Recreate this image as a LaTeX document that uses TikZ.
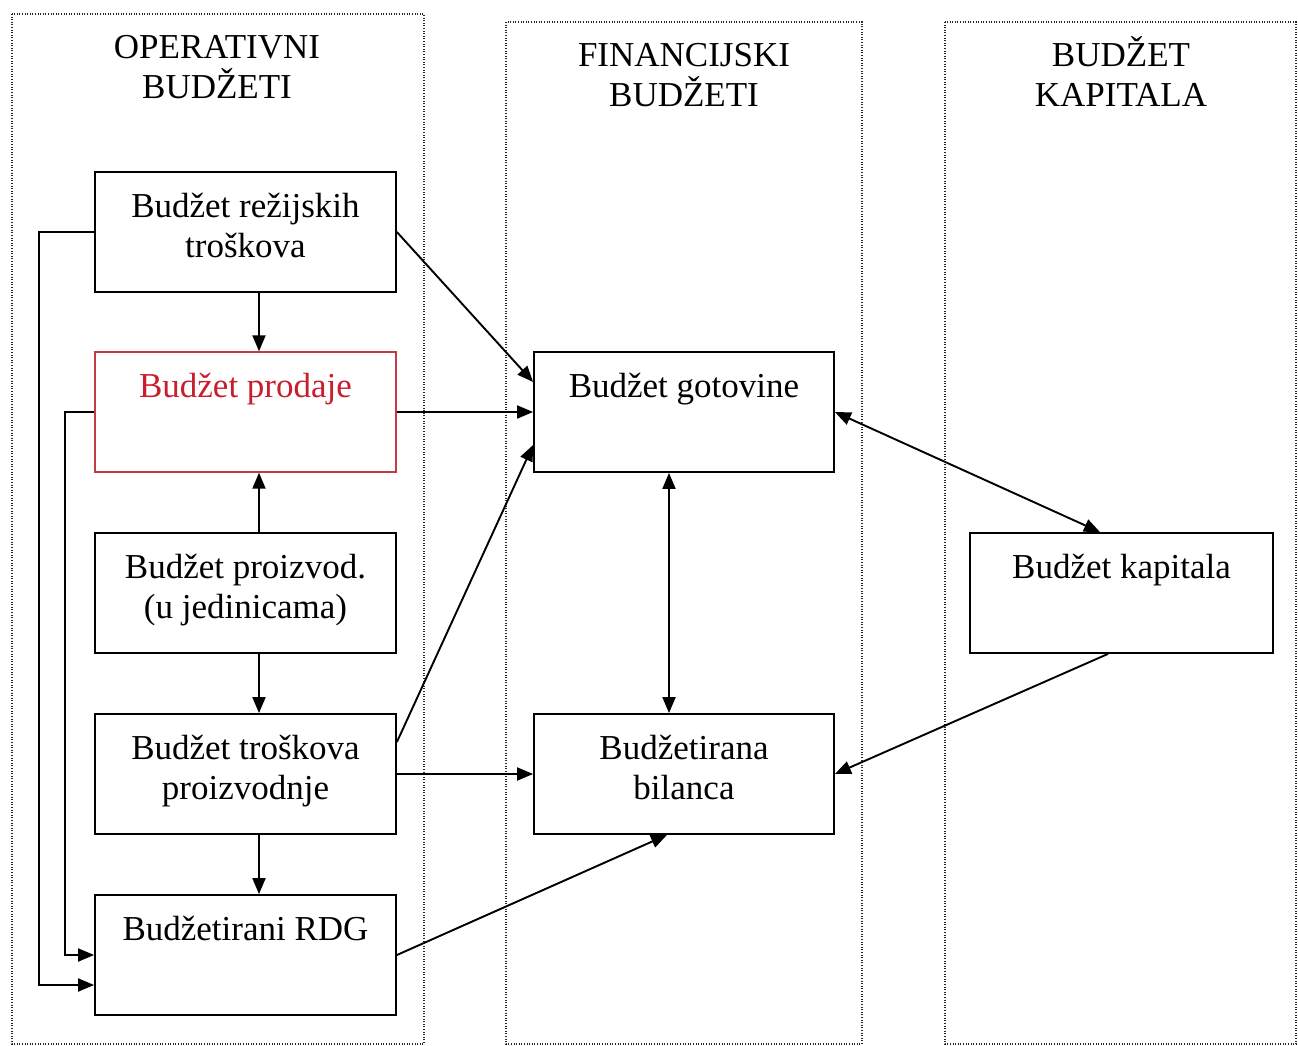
\documentclass[tikz,border=0pt]{standalone}
\usepackage{fontspec}
\setmainfont{Liberation Serif}
\usetikzlibrary{arrows.meta,calc}
\definecolor{redtxt}{RGB}{200,30,45}
\definecolor{redbox}{RGB}{195,60,70}
\begin{document}
\begin{tikzpicture}[x=1pt,y=-1pt,
  panel/.style={draw=black!85,line width=1.3pt,dash pattern=on 1pt off 1.6pt},
  box/.style={draw=black,line width=1.8pt,inner sep=0pt},
  redboxstyle/.style={draw=redbox,line width=1.4pt,inner sep=0pt,text=redtxt},
  heading/.style={anchor=north,inner sep=0pt,align=center,font=\fontsize{35}{40}\selectfont},
  conn/.style={line width=1.9pt,-{Triangle[length=16pt,width=13pt]}},
  dconn/.style={line width=1.9pt,{Triangle[length=16pt,width=13pt]}-{Triangle[length=16pt,width=13pt]}}
]
\newcommand{\boxtext}[2]{\parbox[c][120pt][t]{#1pt}{\fontsize{35}{40}\selectfont\centering\rule{0pt}{45pt}#2\par}}
\useasboundingbox (0,0) rectangle (1298,1046);
\fill[white] (0,0) rectangle (1298,1046);
% panels
\draw[panel] (12,14) rectangle (424,1044);
\draw[panel] (506,22) rectangle (862,1044);
\draw[panel] (945,22) rectangle (1296,1044);
% headings
\node[heading] (h1) at (217,28) {\rule{0pt}{30pt}OPERATIVNI\\BUDŽETI};
\node[heading] (h2) at (684,36) {\rule{0pt}{30pt}FINANCIJSKI\\BUDŽETI};
\node[heading] (h3) at (1121,36) {\rule{0pt}{30pt}BUDŽET\\KAPITALA};
% boxes
\node[box] (rez) at (245.5,232) {\boxtext{301}{Budžet režijskih\\troškova}};
\node[redboxstyle] (prod) at (245.5,412) {\boxtext{301}{Budžet prodaje}};
\node[box] (proiz) at (245.5,593) {\boxtext{301}{Budžet proizvod.\\(u jedinicama)}};
\node[box] (trosk) at (245.5,774) {\boxtext{301}{Budžet troškova\\proizvodnje}};
\node[box] (rdg) at (245.5,955) {\boxtext{301}{Budžetirani RDG}};
\node[box] (got) at (684,412) {\boxtext{300}{Budžet gotovine}};
\node[box] (bil) at (684,774) {\boxtext{300}{Budžetirana\\bilanca}};
\node[box] (kap) at (1121.5,593) {\boxtext{303}{Budžet kapitala}};
% left loops
\draw[conn] (rez.west) -- ++(-55,0) |- ([yshift=-30pt]rdg.west);
\draw[conn] (prod.west) -- ++(-29,0) |- (rdg.west);
% vertical arrows
\draw[conn] ([xshift=13.5pt]rez.south) -- ([xshift=13.5pt]prod.north);
\draw[conn] ([xshift=13.5pt]proiz.north) -- ([xshift=13.5pt]prod.south);
\draw[conn] ([xshift=13.5pt]proiz.south) -- ([xshift=13.5pt]trosk.north);
\draw[conn] ([xshift=13.5pt]trosk.south) -- ([xshift=13.5pt]rdg.north);
% to financial
\draw[conn] (rez.east) -- ([yshift=30pt]got.west);
\draw[conn] (prod.east) -- (got.west);
\draw[conn] ([yshift=32pt]trosk.east) -- ([yshift=-33pt]got.west);
\draw[conn] (trosk.east) -- (bil.west);
\draw[conn] (rdg.east) -- ([xshift=-17pt]bil.south);
\draw[dconn] ([xshift=-15pt]got.south) -- ([xshift=-15pt]bil.north);
\draw[dconn] (got.east) -- ([xshift=-21.5pt]kap.north);
\draw[conn] ([xshift=-13.5pt]kap.south) -- (bil.east);
\end{tikzpicture}
\end{document}
